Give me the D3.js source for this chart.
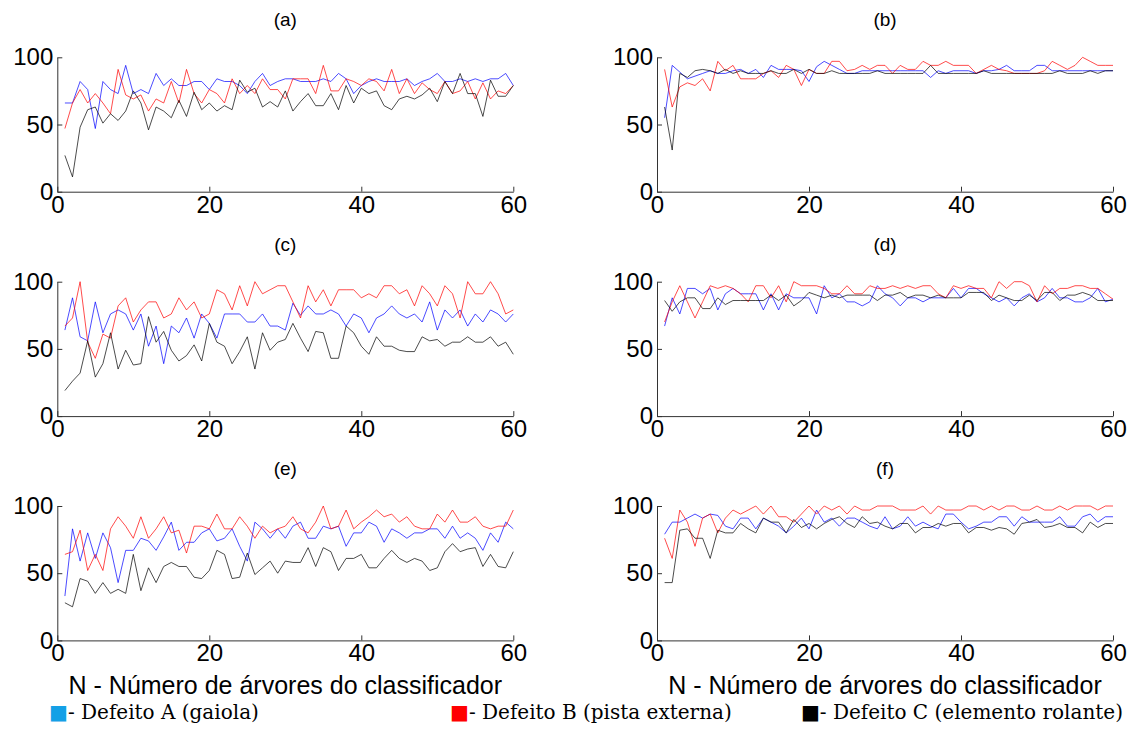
<!DOCTYPE html>
<html>
<head>
<meta charset="utf-8">
<script src="https://cdn.jsdelivr.net/npm/d3@7"></script>
<style>
  html, body { margin: 0; padding: 0; background: #fff; }
  svg { display: block; }
  .tick text { font-family: "Liberation Sans", Arial, sans-serif; }
</style>
</head>
<body>
<svg id="chart" width="1132" height="753"></svg>
<script>
// Number of trees in the classifier (x axis)
const trees = d3.range(1, 61);

const panelLabels = ["(a)", "(b)", "(c)", "(d)", "(e)", "(f)"];
const seriesNames = ["Defeito A (gaiola)", "Defeito B (pista externa)", "Defeito C (elemento rolante)"];
const xTicks = [0, 20, 40, 60];
const yTicks = [0, 50, 100];
const xTitle = "N - Número de árvores do classificador";

// (a)
const aDefA = [66,66,82,76,47,82,76,73,94,73,76,73,88,79,84,79,79,82,82,76,84,82,82,79,73,82,88,79,82,84,
               84,82,82,82,84,82,88,84,73,79,82,84,82,82,82,84,79,82,84,88,82,82,84,82,84,82,84,84,88,79];
const aDefB = [47,66,76,66,73,66,58,91,72,69,72,60,69,66,82,66,91,73,66,76,73,66,84,73,79,73,84,76,76,69,
               84,84,84,73,94,75,75,84,82,79,84,82,75,91,73,84,73,81,76,73,82,73,75,82,69,81,69,75,73,79];
const aDefC = [27,11,48,61,63,51,58,53,60,75,66,46,63,60,55,68,56,74,61,66,60,64,61,83,74,77,63,67,63,75,
               60,67,73,64,64,73,61,79,66,77,73,75,64,61,69,71,69,72,77,67,82,73,88,73,73,56,83,71,71,79];

// (b)
const bDefA = [55,94,89,84,86,88,90,88,88,90,91,88,91,85,94,91,91,91,90,82,93,97,94,91,88,88,90,90,90,90,
               90,90,90,90,90,85,90,88,90,90,90,88,90,90,91,94,90,90,90,94,94,90,90,90,90,90,90,90,90,90];
const bDefB = [91,63,78,81,79,84,75,97,90,94,84,84,84,88,90,85,94,91,79,91,88,88,97,97,90,91,94,91,94,94,
               88,94,91,91,97,94,94,97,94,94,94,88,91,94,91,90,88,88,88,88,90,97,94,91,94,100,97,94,94,94];
const bDefC = [63,31,88,85,90,91,90,88,91,88,90,88,88,88,90,88,88,91,88,91,88,88,90,88,88,88,88,88,90,88,
               88,88,88,88,88,94,88,88,88,88,88,88,90,88,88,88,88,88,88,88,88,88,90,88,88,88,90,88,90,90];

// (c)
const cDefA = [64,88,59,56,85,62,76,79,76,64,76,52,67,39,67,62,73,58,76,69,58,76,76,76,70,70,76,67,67,64,
               84,75,82,76,76,79,76,67,76,73,62,73,76,82,76,73,76,70,85,64,79,73,79,67,76,70,79,76,70,76];
const cDefB = [67,73,100,55,43,61,58,82,88,70,79,85,85,73,76,88,79,85,73,76,94,91,79,97,82,100,91,94,97,97,
               85,73,97,85,94,82,94,94,94,88,91,88,97,97,91,94,82,97,91,82,97,91,73,100,91,91,100,91,76,79];
const cDefC = [19,26,32,56,29,39,62,35,49,38,39,74,55,63,49,41,45,53,41,69,55,52,39,48,59,35,62,49,55,57,
               69,58,48,63,62,43,43,67,62,52,46,59,52,52,49,48,48,59,56,57,52,55,55,59,55,55,59,52,55,46];

// (d)
const dDefA = [67,88,76,95,95,91,95,79,91,95,91,91,91,79,91,79,91,88,88,88,76,97,88,91,85,85,82,85,97,91,
               88,82,88,88,85,88,88,88,95,88,95,95,91,88,85,88,82,88,91,85,88,95,88,88,85,85,88,95,85,87];
const dDefB = [70,85,97,85,73,85,97,95,97,95,91,85,97,97,88,97,85,100,97,97,97,95,91,91,97,91,91,97,95,95,
               97,95,97,95,97,97,91,88,97,95,97,95,95,88,100,95,100,100,97,85,97,91,95,95,97,97,95,95,91,87];
const dDefC = [86,78,85,88,88,80,80,88,83,86,86,86,86,86,90,86,90,82,86,92,90,88,90,88,90,90,90,90,86,90,
               90,92,88,90,90,88,90,88,88,88,92,92,92,86,90,88,86,86,90,86,92,92,86,90,90,92,90,86,86,86];

// (e)
const eDefA = [33,83,59,80,61,80,69,43,67,67,76,74,67,77,88,67,73,73,80,83,74,76,83,70,59,88,83,76,83,76,
               85,88,76,76,85,83,85,70,80,80,88,85,73,83,80,76,80,80,83,83,76,85,76,80,76,67,80,73,88,83];
const eDefB = [64,66,82,52,64,52,83,92,85,76,92,76,83,92,80,82,65,85,85,83,94,83,83,92,85,76,85,80,83,85,
               92,83,80,88,100,83,85,97,83,88,92,97,92,94,88,92,85,83,83,94,88,97,88,88,92,85,83,85,85,97];
const eDefC = [28,25,46,44,35,43,35,38,35,64,37,54,43,55,58,55,55,47,46,52,67,64,46,47,65,49,54,59,50,59,
               58,58,69,55,69,66,52,61,61,64,54,54,61,67,61,58,61,59,52,54,66,72,66,68,69,55,64,55,54,66];

// (f)
const fDefA = [79,88,88,91,94,91,94,93,85,83,91,91,83,91,88,85,80,85,91,83,97,88,91,85,91,91,88,85,83,92,
               83,85,92,85,88,85,83,94,94,88,83,85,88,88,92,92,85,92,88,88,88,88,92,85,85,92,94,88,92,92];
const fDefB = [76,61,97,88,70,91,94,80,91,97,94,97,100,94,100,92,92,88,94,100,94,100,97,100,94,100,97,97,100,100,
               100,97,97,97,100,94,100,97,97,97,100,100,97,100,97,100,100,97,97,100,97,97,100,97,100,100,100,97,100,100];
const fDefC = [43,43,82,83,76,76,61,82,80,80,87,83,80,91,88,88,80,90,84,87,83,87,90,92,87,84,92,87,88,85,
               83,87,87,80,84,84,87,85,87,87,80,84,84,82,84,83,79,87,88,90,84,85,87,84,84,80,88,84,87,87];

const panelSeries = [
  [aDefA, aDefB, aDefC], [bDefA, bDefB, bDefC],
  [cDefA, cDefB, cDefC], [dDefA, dDefB, dDefC],
  [eDefA, eDefB, eDefC], [fDefA, fDefB, fDefC]
];

const lineColors = ["#0000ff", "#ff0000", "#000000"];
const legendColors = ["#14a0e6", "#ff0000", "#000000"];

// Layout of the 3x2 grid of small plots
const plotW = 456, plotH = 134.4;
const colLeft = [57.3, 657];
const rowTop = [57.3, 281.7, 506];

const svg = d3.select("#chart");

const x = d3.scaleLinear().domain([0, 60]).range([0, plotW]);
const y = d3.scaleLinear().domain([0, 100]).range([plotH, 0]);

const line = d3.line()
  .x((d, i) => x(trees[i]))
  .y(d => y(d));

panelSeries.forEach((series, p) => {
  const col = p % 2, row = Math.floor(p / 2);
  const g = svg.append("g")
    .attr("transform", `translate(${colLeft[col]},${rowTop[row]})`);

  // series lines
  series.forEach((vals, s) => {
    g.append("path")
      .datum(vals)
      .attr("fill", "none")
      .attr("stroke", lineColors[s])
      .attr("stroke-width", 1)
      .attr("stroke-opacity", 0.7)
      .attr("d", line);
  });

  // axes
  const yAxis = g.append("g")
    .call(d3.axisLeft(y).tickValues(yTicks).tickSize(-5).tickSizeOuter(0).tickPadding(4));
  const xAxis = g.append("g")
    .attr("transform", `translate(0,${plotH})`)
    .call(d3.axisBottom(x).tickValues(xTicks).tickSize(-5).tickSizeOuter(0).tickPadding(4));

  [yAxis, xAxis].forEach(a => {
    a.select(".domain").attr("stroke", "#333").attr("stroke-width", 1);
    a.selectAll(".tick line").attr("stroke", "#333");
    a.selectAll(".tick text").attr("fill", "#000").attr("font-size", 24);
  });

  // panel title
  g.append("text")
    .attr("x", plotW / 2)
    .attr("y", -31)
    .attr("text-anchor", "middle")
    .attr("font-family", "Liberation Sans, Arial, sans-serif")
    .attr("font-size", 19)
    .text(panelLabels[p]);

  // x-axis title under the bottom row
  if (row === 2) {
    g.append("text")
      .attr("x", plotW / 2)
      .attr("y", plotH + 54)
      .attr("text-anchor", "middle")
      .attr("font-family", "Liberation Sans, Arial, sans-serif")
      .attr("font-size", 25)
      .text(xTitle);
  }
});

// legend: coloured square glyph followed by the series name
const legendX = [49, 450, 1123];
const legendAnchor = ["start", "start", "end"];
const legend = svg.append("g").attr("font-family", "DejaVu Serif, serif");
seriesNames.forEach((name, i) => {
  const t = legend.append("text")
    .attr("x", legendX[i])
    .attr("y", 719)
    .attr("text-anchor", legendAnchor[i])
    .attr("font-size", 20);
  t.append("tspan").attr("fill", legendColors[i]).text("■");
  t.append("tspan").attr("fill", "#000").text("- " + name);
});
</script>
</body>
</html>
